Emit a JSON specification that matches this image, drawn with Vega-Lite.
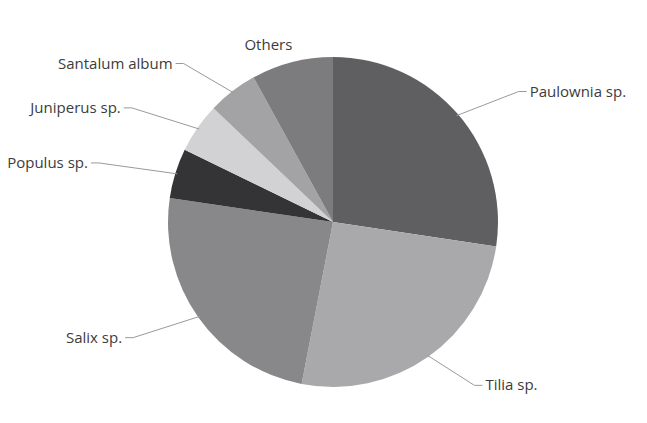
{
  "$schema": "https://vega.github.io/schema/vega-lite/v6.json",
  "width": 628,
  "height": 402,
  "padding": {"left": 19, "top": 21, "right": 0, "bottom": 0},
  "autosize": {"type": "none"},
  "background": "white",
  "config": {"view": {"stroke": null}, "text": {"font": "Open Sans", "fontSize": 15, "color": "#3c3c3c"}},
  "data": {
    "values": [
      {"species": "Paulownia sp.", "share": 27.4},
      {"species": "Tilia sp.", "share": 25.7},
      {"species": "Salix sp.", "share": 24.3},
      {"species": "Populus sp.", "share": 4.9},
      {"species": "Juniperus sp.", "share": 4.9},
      {"species": "Santalum album", "share": 4.9},
      {"species": "Others", "share": 8.0}
    ]
  },
  "transform": [
    {"window": [{"op": "row_number", "as": "rank"}]},
    {"stack": "share", "groupby": [], "sort": [{"field": "rank", "order": "ascending"}], "as": ["s0", "s1"]},
    {"joinaggregate": [{"op": "sum", "field": "share", "as": "total"}]},
    {"calculate": "PI * (datum.s0 + datum.s1) / datum.total", "as": "a"},
    {"calculate": "sin(datum.a) > 0 ? 1 : -1", "as": "dir"},
    {"calculate": "163 * sin(datum.a)", "as": "px"},
    {"calculate": "163 * cos(datum.a)", "as": "py"},
    {"calculate": "245 * sin(datum.a)", "as": "ex"},
    {"calculate": "200 * cos(datum.a)", "as": "ey"},
    {"calculate": "datum.ex + 8 * datum.dir", "as": "hx"},
    {"calculate": "datum.hx + 3 * datum.dir", "as": "tx"},
    {"calculate": "260 * sin(datum.a)", "as": "ox"},
    {"calculate": "183 * cos(datum.a)", "as": "oy"}
  ],
  "layer": [
    {
      "mark": {"type": "arc", "radius": 165, "stroke": null},
      "encoding": {
        "theta": {"field": "share", "type": "quantitative", "stack": true},
        "order": {"field": "rank", "type": "quantitative", "sort": "ascending"},
        "color": {
          "field": "species",
          "type": "nominal",
          "legend": null,
          "scale": {
            "domain": ["Paulownia sp.", "Tilia sp.", "Salix sp.", "Populus sp.", "Juniperus sp.", "Santalum album", "Others"],
            "range": ["#5f5f62", "#a9a9ab", "#88888a", "#343436", "#d2d2d4", "#a3a3a5", "#7c7c7f"]
          }
        }
      }
    },
    {
      "transform": [{"filter": "datum.species != 'Others'"}],
      "mark": {"type": "rule", "color": "#9a9a9a", "strokeWidth": 1},
      "encoding": {
        "x": {"field": "px", "type": "quantitative", "scale": {"domain": [-314, 314], "nice": false, "zero": false}, "axis": null},
        "y": {"field": "py", "type": "quantitative", "scale": {"domain": [-201, 201], "nice": false, "zero": false}, "axis": null},
        "x2": {"field": "ex"},
        "y2": {"field": "ey"}
      }
    },
    {
      "transform": [{"filter": "datum.species != 'Others'"}],
      "mark": {"type": "rule", "color": "#9a9a9a", "strokeWidth": 1},
      "encoding": {
        "x": {"field": "ex", "type": "quantitative", "scale": {"domain": [-314, 314], "nice": false, "zero": false}, "axis": null},
        "y": {"field": "ey", "type": "quantitative", "scale": {"domain": [-201, 201], "nice": false, "zero": false}, "axis": null},
        "x2": {"field": "hx"}
      }
    },
    {
      "transform": [{"filter": "datum.species != 'Others' && datum.dir > 0"}],
      "mark": {"type": "text", "align": "left", "baseline": "middle"},
      "encoding": {
        "x": {"field": "tx", "type": "quantitative", "scale": {"domain": [-314, 314], "nice": false, "zero": false}, "axis": null},
        "y": {"field": "ey", "type": "quantitative", "scale": {"domain": [-201, 201], "nice": false, "zero": false}, "axis": null},
        "text": {"field": "species"}
      }
    },
    {
      "transform": [{"filter": "datum.species != 'Others' && datum.dir < 0"}],
      "mark": {"type": "text", "align": "right", "baseline": "middle"},
      "encoding": {
        "x": {"field": "tx", "type": "quantitative", "scale": {"domain": [-314, 314], "nice": false, "zero": false}, "axis": null},
        "y": {"field": "ey", "type": "quantitative", "scale": {"domain": [-201, 201], "nice": false, "zero": false}, "axis": null},
        "text": {"field": "species"}
      }
    },
    {
      "transform": [{"filter": "datum.species == 'Others'"}],
      "mark": {"type": "text", "align": "center", "baseline": "middle"},
      "encoding": {
        "x": {"field": "ox", "type": "quantitative", "scale": {"domain": [-314, 314], "nice": false, "zero": false}, "axis": null},
        "y": {"field": "oy", "type": "quantitative", "scale": {"domain": [-201, 201], "nice": false, "zero": false}, "axis": null},
        "text": {"field": "species"}
      }
    }
  ]
}
